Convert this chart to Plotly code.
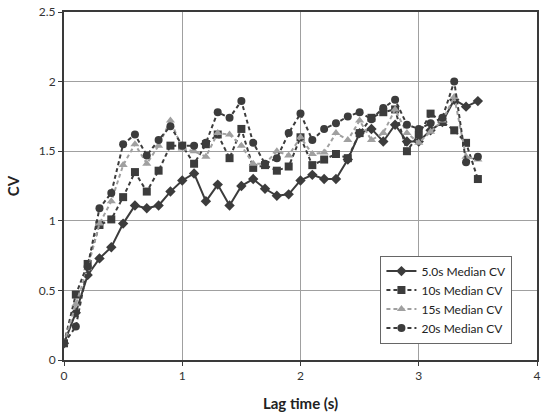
import plotly.graph_objects as go

lag = [round(0.1 * i, 1) for i in range(36)]

cv_5s = [0.12, 0.34, 0.61, 0.73, 0.81, 0.98, 1.11, 1.09, 1.11, 1.21,
         1.29, 1.34, 1.14, 1.26, 1.11, 1.25, 1.30, 1.23, 1.18, 1.19,
         1.29, 1.33, 1.30, 1.30, 1.44, 1.63, 1.66, 1.57, 1.69, 1.57,
         1.57, 1.65, 1.71, 1.87, 1.82, 1.86]
cv_10s = [0.12, 0.47, 0.69, 0.97, 1.01, 1.17, 1.35, 1.21, 1.36, 1.54,
          1.54, 1.41, 1.55, 1.62, 1.45, 1.66, 1.38, 1.40, 1.36, 1.39,
          1.60, 1.40, 1.44, 1.48, 1.45, 1.63, 1.74, 1.78, 1.80, 1.50,
          1.62, 1.77, 1.71, 1.65, 1.56, 1.30]
cv_15s = [0.12, 0.40, 0.66, 0.98, 1.14, 1.40, 1.55, 1.41, 1.54, 1.72,
          1.52, 1.50, 1.46, 1.63, 1.62, 1.54, 1.41, 1.41, 1.50, 1.47,
          1.60, 1.48, 1.49, 1.63, 1.58, 1.72, 1.58, 1.63, 1.80, 1.63,
          1.56, 1.64, 1.72, 1.89, 1.46, 1.44]
cv_20s = [0.12, 0.24, 0.67, 1.09, 1.20, 1.55, 1.62, 1.47, 1.58, 1.68,
          1.54, 1.54, 1.56, 1.78, 1.74, 1.86, 1.56, 1.41, 1.45, 1.63,
          1.77, 1.58, 1.66, 1.70, 1.75, 1.78, 1.73, 1.81, 1.87, 1.69,
          1.66, 1.70, 1.74, 2.00, 1.42, 1.46]

names = ["5.0s Median CV", "10s Median CV", "15s Median CV", "20s Median CV"]
series = [cv_5s, cv_10s, cv_15s, cv_20s]
styles = [
    dict(color="#3c3c3c", dash="solid", symbol="diamond", size=8),
    dict(color="#3c3c3c", dash="4px,3px", symbol="square", size=8),
    dict(color="#a0a0a0", dash="4px,3px", symbol="triangle-up", size=8),
    dict(color="#3c3c3c", dash="4px,3px", symbol="circle", size=8),
]

fig = go.Figure()
for name, ys, st in zip(names, series, styles):
    fig.add_trace(go.Scatter(
        x=lag, y=ys, name=name, mode="lines+markers",
        line=dict(color=st["color"], width=2, dash=st["dash"]),
        marker=dict(symbol=st["symbol"], size=st["size"], color=st["color"]),
    ))

axis_common = dict(
    showgrid=True, gridcolor="#a0a0a0", gridwidth=1,
    showline=True, linecolor="#3a3a3a", linewidth=2, mirror=True,
    ticks="outside", ticklen=4, tickcolor="#3a3a3a",
    tickfont=dict(family="Lato, Open Sans, sans-serif", size=12, color="#333333"),
    zeroline=False,
)

fig.update_xaxes(range=[0, 4], tickvals=[0, 1, 2, 3, 4],
                 title=dict(text="<b>Lag time (s)</b>",
                            font=dict(family="Lato, Open Sans, sans-serif", size=15, color="#222222"),
                            standoff=16),
                 **axis_common)
fig.update_yaxes(range=[0, 2.5], tickvals=[0, 0.5, 1, 1.5, 2, 2.5],
                 ticktext=["0", "0.5", "1", "1.5", "2", "2.5"],
                 title=dict(text="<b>CV</b>",
                            font=dict(family="Lato, Open Sans, sans-serif", size=15, color="#222222"),
                            standoff=16),
                 **axis_common)

fig.update_layout(
    width=543, height=418,
    margin=dict(l=64, r=2, t=12, b=58),
    paper_bgcolor="white", plot_bgcolor="white",
    showlegend=True,
    legend=dict(
        x=0.669, y=0.30, xanchor="left", yanchor="top",
        bgcolor="white", bordercolor="#666666", borderwidth=1,
        font=dict(family="Lato, Open Sans, sans-serif", size=12, color="#222222"),
        itemwidth=30, tracegroupgap=0,
    ),
)

fig.write_html("out.html")
